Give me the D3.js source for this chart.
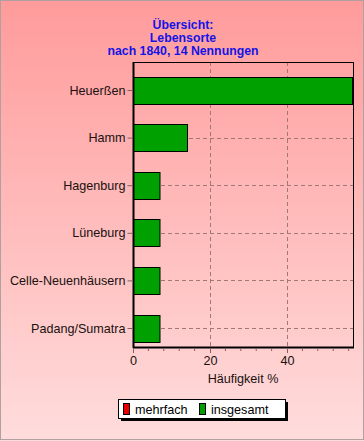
<!DOCTYPE html>
<html><head><meta charset="utf-8">
<script src="https://cdn.jsdelivr.net/npm/d3@7"></script>
<style>html,body{margin:0;padding:0;background:#fff}svg{display:block}</style>
</head><body>
<script>
const titleLines = ["Übersicht:", "Lebensorte", "nach 1840, 14 Nennungen"];
const categories = ["Heuerßen", "Hamm", "Hagenburg", "Lüneburg", "Celle-Neuenhäusern", "Padang/Sumatra"];
const mehrfach = [0, 0, 0, 0, 0, 0];
const insgesamt = [57.14, 14.29, 7.14, 7.14, 7.14, 7.14];
const xTicks = [0, 20, 40];
const xMinorTicks = [4, 8, 12, 16, 24, 28, 32, 36, 44, 48, 52, 56];
const xMax = 57.14;
const xLabel = "Häufigkeit %";
const legendItems = [{name: "mehrfach", color: "#e80000"}, {name: "insgesamt", color: "#00a000"}];

const W = 364, H = 441;
const plot = {left: 133, right: 353, top: 62, bottom: 347};
const svg = d3.select("body").append("svg").attr("width", W).attr("height", H);
const FONT = "Liberation Sans, Arial, sans-serif";

const grad = svg.append("defs").append("linearGradient").attr("id", "bg")
  .attr("x1", 0).attr("y1", 0).attr("x2", 0).attr("y2", 1);
grad.append("stop").attr("offset", "0%").attr("stop-color", "#ff9b9b");
grad.append("stop").attr("offset", "100%").attr("stop-color", "#ffdcdc");
svg.append("rect").attr("width", W).attr("height", H).attr("fill", "url(#bg)");
svg.append("rect").attr("x", 0.5).attr("y", 0.5).attr("width", W - 1).attr("height", H - 2)
  .attr("fill", "none").attr("stroke", "#b0a0a0").attr("stroke-width", 1);

const x = d3.scaleLinear().domain([0, xMax]).range([plot.left, plot.right]);
const y = d3.scalePoint().domain(categories).range([90, 328]);
const barH = 27;

// title
svg.append("g").selectAll("text").data(titleLines).join("text")
  .attr("x", 183).attr("y", (d, i) => 29 + i * 13)
  .attr("text-anchor", "middle")
  .attr("font-family", FONT).attr("font-weight", "bold")
  .attr("font-size", 12.3).attr("fill", "#1414e6").text(d => d);

// grid
const grid = svg.append("g").attr("stroke", "#a07878").attr("stroke-dasharray", "4,3").attr("stroke-width", 1);
grid.selectAll("line.v").data(xTicks.filter(d => d > 0)).join("line").attr("class", "v")
  .attr("x1", d => Math.round(x(d)) + 0.5).attr("x2", d => Math.round(x(d)) + 0.5)
  .attr("y1", plot.top).attr("y2", plot.bottom);
grid.selectAll("line.h").data(categories).join("line").attr("class", "h")
  .attr("x1", plot.left).attr("x2", plot.right)
  .attr("y1", d => Math.round(y(d)) + 0.5).attr("y2", d => Math.round(y(d)) + 0.5);

// bars
svg.append("g").selectAll("rect").data(categories).join("rect")
  .attr("x", plot.left + 0.5)
  .attr("y", d => Math.round(y(d) - barH / 2) + 0.5)
  .attr("width", (d, i) => Math.max(0, x(insgesamt[i]) - plot.left - 1))
  .attr("height", barH)
  .attr("fill", "#00a000").attr("stroke", "#000").attr("stroke-width", 1);

// frame
svg.append("rect").attr("x", plot.left + 0.5).attr("y", plot.top + 0.5)
  .attr("width", plot.right - plot.left).attr("height", plot.bottom - plot.top)
  .attr("fill", "none").attr("stroke", "#000").attr("stroke-width", 1);
svg.append("line").attr("x1", plot.left + 0.5).attr("x2", plot.left + 0.5)
  .attr("y1", plot.top).attr("y2", plot.bottom + 1).attr("stroke", "#000").attr("stroke-width", 2);
svg.append("line").attr("x1", plot.left).attr("x2", plot.right + 1)
  .attr("y1", plot.bottom + 0.5).attr("y2", plot.bottom + 0.5).attr("stroke", "#000").attr("stroke-width", 2);

// y axis
const yAxis = d3.axisLeft(y).tickSize(5).tickPadding(2);
const gy = svg.append("g").attr("transform", `translate(${plot.left - 0.5},0)`).call(yAxis);
gy.select(".domain").remove();
gy.selectAll(".tick line").attr("stroke", "#806060");
gy.selectAll(".tick text").attr("font-family", FONT)
  .attr("font-size", 12.6).attr("fill", "#201010");

// x axis
const xAxis = d3.axisBottom(x).tickValues(xTicks).tickSize(5).tickPadding(3).tickFormat(d3.format("d"));
const gx = svg.append("g").attr("transform", `translate(0,${plot.bottom + 1})`).call(xAxis);
gx.select(".domain").remove();
gx.selectAll(".tick line").attr("stroke", "#806060");
gx.selectAll(".tick text").attr("font-family", FONT)
  .attr("font-size", 12.6).attr("fill", "#201010");
svg.append("g").attr("transform", `translate(0,${plot.bottom + 1})`)
  .selectAll("line").data(xMinorTicks).join("line")
  .attr("x1", d => x(d)).attr("x2", d => x(d)).attr("y1", 0).attr("y2", 3)
  .attr("stroke", "#806060");

svg.append("text").attr("x", (plot.left + plot.right) / 2).attr("y", 383)
  .attr("text-anchor", "middle").attr("font-family", FONT)
  .attr("font-size", 12.6).attr("fill", "#201010").text(xLabel);

// legend
const lg = svg.append("g");
lg.append("rect").attr("x", 121).attr("y", 402).attr("width", 167).attr("height", 19).attr("fill", "#000");
lg.append("rect").attr("x", 118.5).attr("y", 399.5).attr("width", 167).attr("height", 19)
  .attr("fill", "#fff").attr("stroke", "#000").attr("stroke-width", 1);
const legX = [123.5, 199.5];
const li = lg.selectAll("g.item").data(legendItems).join("g").attr("class", "item")
  .attr("transform", (d, i) => `translate(${legX[i]},403.5)`);
li.append("rect").attr("width", 6).attr("height", 11).attr("fill", d => d.color)
  .attr("stroke", "#000").attr("stroke-width", 1);
li.append("text").attr("x", 11.5).attr("y", 10.5).attr("font-family", FONT)
  .attr("font-size", 12.6).attr("fill", "#000").text(d => d.name);
</script>
</body></html>
